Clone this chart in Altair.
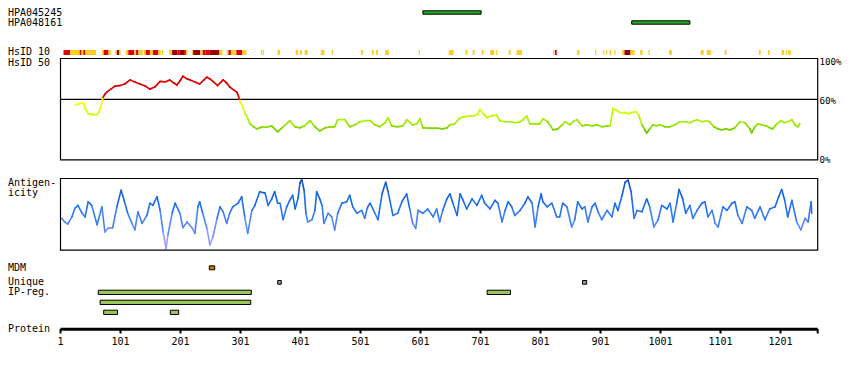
import altair as alt
import pandas as pd

FONT = "DejaVu Sans Mono"

# ---------------- data ----------------
PROTEIN_END = 1263
AXIS_TICKS = [1, 101, 201, 301, 401, 501, 601, 701, 801, 901, 1001, 1101, 1201]

AB_NAMES = ["HPA045245", "HPA048161"]
AB_START = [605, 953]
AB_END = [702, 1050]

# HsID 10 track segments: start, end, level
HS10_START = [6, 17, 33, 36, 39, 42, 70, 73, 81, 92, 95, 99, 110, 114, 124, 127, 131, 140, 143, 150,
              155, 164, 170, 182, 187, 196, 199, 207, 210, 220, 222, 234, 238, 243, 249, 266, 278, 281,
              285, 294, 304, 335, 338, 363, 393, 400, 408, 435, 453, 502, 520, 527, 542, 598, 648, 676,
              688, 703, 717, 727, 748, 761, 822, 825, 862, 892, 905, 910, 916, 924, 937, 941, 951, 967,
              981, 1015, 1068, 1078, 1108, 1165, 1180, 1203, 1210, 1214]
HS10_END = [17, 33, 36, 39, 42, 60, 73, 81, 85, 95, 99, 101, 114, 124, 127, 131, 138, 143, 150, 155,
            164, 168, 172, 187, 196, 199, 207, 210, 212, 222, 234, 238, 243, 249, 266, 271, 281, 285,
            293, 304, 311, 337, 340, 367, 397, 403, 413, 441, 455, 505, 523, 530, 548, 600, 656, 679,
            691, 706, 724, 729, 751, 770, 824, 828, 866, 894, 907, 912, 919, 926, 941, 951, 958, 971,
            983, 1020, 1073, 1085, 1111, 1168, 1183, 1207, 1212, 1218]
HS10_LEVEL = ["mid", "low", "mid", "low", "mid", "low", "low", "mid", "low", "low", "high", "low", "low",
              "mid", "low", "mid", "low", "low", "mid", "low", "mid", "low", "low", "low", "high", "mid",
              "high", "mid", "low", "low", "high", "low", "mid", "mid", "high", "low", "low", "mid", "low",
              "mid", "low", "low", "low", "low", "low", "low", "low", "low", "low", "low", "low", "low",
              "low", "low", "low", "low", "low", "low", "low", "low", "low", "low", "low", "mid", "low",
              "low", "low", "low", "low", "low", "low", "high", "low", "low", "low", "low", "low", "low",
              "low", "low", "low", "low", "low", "low"]

# HsID 50 similarity (%) : (position, value)
HS50 = [(25, 54), (33, 56), (40, 56), (42, 51), (47, 46), (55, 45), (62, 45), (67, 50), (72, 62), (75, 65),
        (78, 67), (85, 70), (92, 73), (100, 73.5), (108, 75), (117, 79), (125, 77), (133, 75), (142, 73),
        (150, 70), (158, 72), (167, 77.5), (175, 77), (183, 79), (190, 76), (195, 74), (200, 78), (205, 82.6),
        (212, 80), (217, 79), (225, 77), (233, 75), (240, 79), (245, 81.7), (250, 80), (255, 77.5), (263, 73.5),
        (272, 79), (278, 76), (283, 72), (290, 69), (295, 67), (300, 59), (305, 52), (308, 47), (313, 41),
        (317, 36), (323, 33), (328, 31), (337, 33), (345, 32.6), (353, 34), (363, 28), (372, 33), (383, 39),
        (392, 33), (400, 32), (408, 34), (417, 39), (425, 33), (433, 29), (442, 32), (450, 33), (458, 33),
        (463, 40), (475, 40), (483, 33), (492, 35), (500, 38), (508, 39), (517, 39), (525, 35), (533, 33),
        (542, 37), (547, 42), (553, 34), (562, 33), (572, 34), (578, 40), (588, 35), (595, 36), (600, 41),
        (605, 32), (617, 31.7), (628, 31.7), (638, 31), (645, 32), (650, 35), (658, 36), (667, 42), (675, 43),
        (683, 43.5), (692, 44), (697, 46), (700, 50), (707, 45), (712, 42), (720, 44), (728, 44.5), (733, 39),
        (742, 38), (750, 38), (758, 37), (767, 38), (772, 40), (778, 43.5), (783, 36), (792, 36), (800, 36),
        (805, 41), (813, 38), (822, 30), (830, 31), (837, 35), (842, 38), (850, 35), (857, 39), (862, 40),
        (870, 34), (878, 35), (887, 34), (895, 35), (903, 33), (912, 34), (917, 34), (922, 51), (928, 49),
        (933, 47), (942, 47), (947, 46), (953, 47), (960, 48), (965, 44), (970, 35), (975, 30), (978, 27),
        (983, 31), (988, 35), (995, 34), (1000, 35), (1008, 33), (1017, 33), (1025, 35), (1033, 38),
        (1042, 38), (1050, 37), (1057, 39), (1062, 40), (1070, 38), (1077, 39), (1083, 38), (1090, 33),
        (1097, 31), (1103, 30), (1110, 31), (1117, 30), (1125, 32), (1133, 38), (1142, 37), (1150, 31),
        (1153, 27), (1158, 33), (1163, 36), (1170, 35), (1177, 34), (1183, 32), (1188, 31), (1195, 36),
        (1202, 39), (1207, 37), (1213, 38), (1220, 40), (1225, 35), (1230, 33), (1233, 36)]

# Antigenicity (relative score 0-100) : (position, value)
ANT = [(3, 44), (8, 39), (13, 36), (20, 46), (25, 58), (30, 62), (37, 51), (42, 46), (47, 67), (53, 62),
       (62, 35), (70, 60), (75, 25), (80, 30), (88, 31), (95, 60), (102, 83), (107, 69), (113, 51), (120, 37),
       (125, 28), (130, 53), (137, 37), (145, 48), (150, 65), (155, 62), (162, 74), (167, 55), (172, 25),
       (177, 2), (180, 21), (187, 51), (192, 65), (200, 51), (205, 31), (212, 39), (220, 31), (225, 23),
       (230, 60), (233, 67), (238, 51), (245, 30), (250, 7), (255, 18), (262, 44), (267, 60), (272, 53),
       (278, 37), (283, 51), (288, 60), (297, 65), (303, 74), (308, 46), (313, 23), (320, 55), (325, 62),
       (333, 81), (342, 79), (347, 62), (353, 71), (358, 81), (363, 65), (367, 65), (372, 42), (378, 60),
       (383, 69), (388, 76), (392, 57), (397, 72), (400, 93), (403, 98), (407, 83), (410, 51), (413, 39),
       (420, 42), (425, 55), (428, 81), (433, 71), (437, 62), (440, 37), (447, 51), (453, 46), (458, 28),
       (463, 51), (470, 65), (478, 67), (483, 76), (488, 60), (495, 51), (503, 55), (508, 44), (513, 60),
       (517, 65), (525, 51), (530, 42), (537, 78), (543, 94), (547, 81), (555, 48), (563, 51), (570, 67),
       (578, 78), (583, 57), (588, 37), (593, 30), (597, 55), (605, 51), (613, 57), (622, 46), (628, 57),
       (633, 39), (638, 55), (645, 71), (650, 78), (655, 65), (662, 48), (667, 78), (672, 69), (678, 57),
       (687, 71), (695, 62), (703, 76), (708, 65), (717, 57), (725, 69), (730, 65), (737, 39), (742, 55),
       (747, 67), (753, 60), (758, 48), (767, 55), (775, 65), (780, 74), (787, 65), (792, 32), (797, 60),
       (802, 78), (805, 67), (812, 60), (820, 65), (828, 46), (833, 46), (838, 65), (845, 60), (853, 32),
       (858, 42), (863, 67), (870, 57), (875, 60), (880, 39), (887, 60), (892, 65), (897, 53), (903, 42),
       (912, 55), (920, 46), (925, 65), (930, 55), (937, 76), (942, 94), (947, 97), (952, 81), (957, 44),
       (962, 55), (970, 53), (978, 71), (983, 60), (990, 32), (997, 42), (1003, 62), (1012, 57), (1017, 65),
       (1022, 39), (1028, 65), (1032, 84), (1038, 71), (1043, 51), (1050, 62), (1055, 44), (1062, 55),
       (1070, 65), (1075, 67), (1080, 46), (1087, 55), (1092, 37), (1097, 32), (1105, 60), (1112, 55),
       (1120, 65), (1125, 67), (1130, 48), (1137, 37), (1145, 60), (1153, 55), (1158, 44), (1167, 60),
       (1175, 42), (1183, 57), (1192, 60), (1198, 74), (1203, 84), (1208, 69), (1213, 46), (1220, 69),
       (1228, 39), (1235, 28), (1242, 44), (1247, 39), (1252, 67), (1253, 51)]

MDM_START = [249]
MDM_END = [258]
UNIQUE_START = [363, 871]
UNIQUE_END = [369, 878]
IP_START = [64, 712, 67, 73, 184]
IP_END = [319, 751, 318, 96, 198]
IP_ROW = [1, 1, 2, 3, 3]

# ---------------- scales ----------------
XS = alt.Scale(domain=[-86.5, 1303.5], nice=False, zero=False)
Y50 = alt.Scale(domain=[0, 100], range=[152.5, 50.5], nice=False, zero=False)
YANT = alt.Scale(domain=[0, 100], range=[242, 170], nice=False, zero=False)
C50 = alt.Scale(domain=[25, 30, 38, 46, 55, 59, 61, 100],
                range=["#44aa00", "#77cc00", "#a4f000", "#ccff00", "#eeff00", "#ffee00", "#dd0000", "#dd0000"])
CANT = alt.Scale(domain=[0, 20, 40, 60, 85, 100],
                 range=["#b4a8ff", "#8c96ff", "#4a86f8", "#1a6ef0", "#125fd8", "#0a3f9a"])
C10 = alt.Scale(domain=["low", "mid", "high"], range=["#ffcc22", "#dd0000", "#990000"])


def xenc(f):
    return alt.X(f, type="quantitative", scale=XS, axis=None)


def segments(pairs):
    p = [a for a, _ in pairs]
    v = [b for _, b in pairs]
    return pd.DataFrame({"x": p[:-1], "x2": p[1:], "y": v[:-1], "y2": v[1:],
                         "c": [(a + b) / 2 for a, b in zip(v[:-1], v[1:])]})


def label(txt, x, y, align="left", size=10):
    return alt.Chart(pd.DataFrame({"t": [txt]})).mark_text(
        font=FONT, fontSize=size, align=align, baseline="middle", color="black"
    ).encode(x=alt.value(x), y=alt.value(y), text="t:N")


span = pd.DataFrame({"s": [1], "e": [PROTEIN_END], "v": [60]})
layers = []

# HsID 50 panel
layers.append(alt.Chart(span).mark_rule(color="black", strokeWidth=1.2).encode(
    x=xenc("s"), x2="e", y=alt.Y("v:Q", scale=Y50, axis=None)))
layers.append(alt.Chart(segments(HS50)).mark_rule(strokeWidth=1.7, strokeCap="round").encode(
    x=xenc("x"), x2="x2", y=alt.Y("y:Q", scale=Y50, axis=None), y2="y2",
    color=alt.Color("c:Q", scale=C50, legend=None)))
layers.append(alt.Chart(span).mark_rect(fillOpacity=0, stroke="black", strokeWidth=1.2).encode(
    x=xenc("s"), x2="e", y=alt.value(50.5), y2=alt.value(151.8)))

# Antigenicity panel
layers.append(alt.Chart(segments(ANT)).mark_rule(strokeWidth=1.6, strokeCap="round").encode(
    x=xenc("x"), x2="x2", y=alt.Y("y:Q", scale=YANT, axis=None), y2="y2",
    color=alt.Color("c:Q", scale=CANT, legend=None)))
layers.append(alt.Chart(span).mark_rect(fillOpacity=0, stroke="black", strokeWidth=1.2).encode(
    x=xenc("s"), x2="e", y=alt.value(170.5), y2=alt.value(242.2)))

# HsID 10 track
hs10 = pd.DataFrame({"s": HS10_START, "e": HS10_END, "lvl": HS10_LEVEL})
layers.append(alt.Chart(hs10).mark_rect().encode(
    x=xenc("s"), x2="e", y=alt.value(42), y2=alt.value(47),
    color=alt.Color("lvl:N", scale=C10, legend=None)))

# antibodies
for i, (s, e) in enumerate(zip(AB_START, AB_END)):
    y0 = 2.8 + 10 * i
    layers.append(alt.Chart(pd.DataFrame({"s": [s], "e": [e]})).mark_rect(
        fill="#22aa22", stroke="black", strokeWidth=1).encode(
        x=xenc("s"), x2="e", y=alt.value(y0), y2=alt.value(y0 + 3.4)))

# MDM
layers.append(alt.Chart(pd.DataFrame({"s": MDM_START, "e": MDM_END})).mark_rect(
    fill="#cc7700", stroke="black", strokeWidth=1).encode(
    x=xenc("s"), x2="e", y=alt.value(257.8), y2=alt.value(261.8)))
# Unique
layers.append(alt.Chart(pd.DataFrame({"s": UNIQUE_START, "e": UNIQUE_END})).mark_rect(
    fill="#999999", stroke="black", strokeWidth=1).encode(
    x=xenc("s"), x2="e", y=alt.value(272.5), y2=alt.value(276.2)))
# IP-reg rows
ip = pd.DataFrame({"s": IP_START, "e": IP_END, "row": IP_ROW})
for r in [1, 2, 3]:
    y0 = 282.2 + 10 * (r - 1)
    layers.append(alt.Chart(ip[ip.row == r]).mark_rect(
        fill="#99c45a", stroke="black", strokeWidth=1).encode(
        x=xenc("s"), x2="e", y=alt.value(y0), y2=alt.value(y0 + 4.3)))

# protein axis
layers.append(alt.Chart(span).mark_rule(color="black", strokeWidth=3).encode(
    x=xenc("s"), x2="e", y=alt.value(321.2)))
ticks = pd.DataFrame({"p": AXIS_TICKS + [PROTEIN_END]})
layers.append(alt.Chart(ticks).mark_rule(color="black", strokeWidth=2).encode(
    x=xenc("p"), y=alt.value(321), y2=alt.value(325.5)))
tlab = pd.DataFrame({"p": AXIS_TICKS, "lab": [str(t) for t in AXIS_TICKS]})
layers.append(alt.Chart(tlab).mark_text(font=FONT, fontSize=10, align="center", baseline="middle",
                                         color="black").encode(
    x=xenc("p"), y=alt.value(333.7), text="lab:N"))

# text labels
for txt, y in [(AB_NAMES[0], 4.7), (AB_NAMES[1], 14.7), ("HsID 10", 44.3), ("HsID 50", 54.7),
               ("Antigen-", 175.3), ("icity", 185.3), ("MDM", 259.7), ("Unique", 274.3),
               ("IP-reg.", 284.3), ("Protein", 321)]:
    layers.append(label(txt, 0, y))
for txt, y in [("100%", 54.3), ("60%", 92.7), ("0%", 152)]:
    layers.append(label(txt, 811.5, y, size=9.2))

chart = alt.layer(*layers).resolve_scale(y="independent", color="independent").properties(
    width=834, height=354, autosize=alt.AutoSizeParams(type="none"), padding=0,
    background="white"
).configure_view(stroke=None)

chart.save("out.html", embed_options={"renderer": "svg", "actions": False})
